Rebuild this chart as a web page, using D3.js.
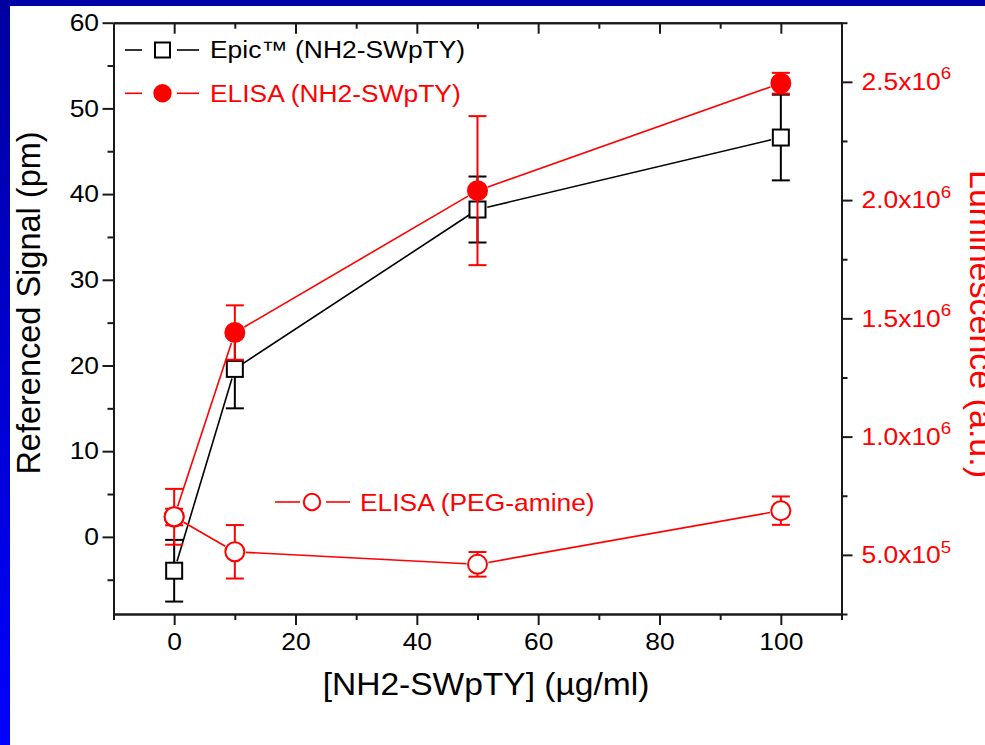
<!DOCTYPE html>
<html>
<head>
<meta charset="utf-8">
<script src="https://cdn.jsdelivr.net/npm/d3@7"></script>
<style>
  html, body { margin: 0; padding: 0; background: #fff; }
  svg { display: block; }
  text { font-family: "Liberation Sans", Arial, sans-serif; }
</style>
</head>
<body>
<svg id="chart" width="985" height="745"></svg>
<script>
// ---------------- data ----------------
const xValues = [0, 10, 50, 100];

const epicSignal = [-3.95, 19.6, 38.2, 46.6];
const epicError  = [3.6, 4.6, 3.85, 5.0];

const elisaNH2      = [660000, 1440000, 2040000, 2494000];
const elisaNH2Error = [35000, 115000, 315000, 44000];

const elisaPEG      = [661000, 513000, 460000, 687000];
const elisaPEGError = [118000, 113000, 52000, 60000];

const xMajorTicks = [0, 20, 40, 60, 80, 100];
const xMinorTicks = [-10, 10, 30, 50, 70, 90, 110];
const yLeftMajorTicks = [0, 10, 20, 30, 40, 50, 60];
const yLeftMinorTicks = [-5, 5, 15, 25, 35, 45, 55];
const yRightMajorTicks = [500000, 1000000, 1500000, 2000000, 2500000];
const yRightMinorTicks = [250000, 750000, 1250000, 1750000, 2250000, 2750000];

const legendLabels = ["Epic\u2122 (NH2-SWpTY)", "ELISA (NH2-SWpTY)", "ELISA (PEG-amine)"];
const xTitle = "[NH2-SWpTY] (\u00b5g/ml)";
const yLeftTitle = "Referenced Signal (pm)";
const yRightTitle = "Luminescence (a.u.)";

// ---------------- layout ----------------
const W = 985, H = 745;
const plot = { left: 113.5, right: 841.5, top: 22.7, bottom: 614 };
const RED = "#ff0000", BLACK = "#000000", AXIS = "#1a1a1a";
const STRETCH = 1.1;

const svg = d3.select("#chart");

// background & blue frame
const defs = svg.append("defs");
const grad = defs.append("linearGradient").attr("id", "leftBand")
  .attr("x1", 0).attr("y1", 0).attr("x2", 0).attr("y2", 1);
grad.append("stop").attr("offset", "0%").attr("stop-color", "#0000a0");
grad.append("stop").attr("offset", "100%").attr("stop-color", "#0000ff");
svg.append("rect").attr("width", W).attr("height", H).attr("fill", "#fff");
svg.append("rect").attr("x", 0).attr("y", 0).attr("width", W).attr("height", 6).attr("fill", "#0000a8");
svg.append("rect").attr("x", 0).attr("y", 0).attr("width", 10).attr("height", H).attr("fill", "url(#leftBand)");

// ---------------- scales ----------------
const x = d3.scaleLinear().domain([-10, 110]).range([plot.left, plot.right]);
const yL = d3.scaleLinear().domain([-9, 60]).range([plot.bottom, plot.top]);
const yR = d3.scaleLinear().domain([250000, 2750000]).range([plot.bottom, plot.top]);

function stretchTexts(sel) {
  sel.each(function () {
    const t = d3.select(this);
    const tx = +t.attr("x") || 0;
    t.attr("x", 0).attr("transform", `translate(${tx},0) scale(${STRETCH},1)`);
  });
}
function styleAxis(g) {
  g.select(".domain").attr("stroke", AXIS).attr("stroke-width", 2);
  g.selectAll(".tick line").attr("stroke", AXIS).attr("stroke-width", 2);
  g.selectAll(".tick text").attr("font-size", 24).attr("fill", "#000")
    .attr("font-family", '"Liberation Sans", Arial, sans-serif');
}

// ---------------- axes ----------------
// bottom
const gBottomMinor = svg.append("g").attr("transform", `translate(0,${plot.bottom})`)
  .call(d3.axisBottom(x).tickValues(xMinorTicks).tickSize(6).tickSizeOuter(0).tickFormat(""));
styleAxis(gBottomMinor);
const gBottom = svg.append("g").attr("transform", `translate(0,${plot.bottom})`)
  .call(d3.axisBottom(x).tickValues(xMajorTicks).tickSize(11).tickSizeOuter(0).tickPadding(8).tickFormat(d3.format("d")));
styleAxis(gBottom);
stretchTexts(gBottom.selectAll(".tick text"));

// top (inward ticks)
const gTopMinor = svg.append("g").attr("transform", `translate(0,${plot.top})`)
  .call(d3.axisTop(x).tickValues(xMinorTicks).tickSize(-6).tickSizeOuter(0).tickFormat(""));
styleAxis(gTopMinor);
const gTop = svg.append("g").attr("transform", `translate(0,${plot.top})`)
  .call(d3.axisTop(x).tickValues(xMajorTicks).tickSize(-11).tickSizeOuter(0).tickFormat(""));
styleAxis(gTop);

// left
const gLeftMinor = svg.append("g").attr("transform", `translate(${plot.left},0)`)
  .call(d3.axisLeft(yL).tickValues(yLeftMinorTicks).tickSize(6).tickSizeOuter(0).tickFormat(""));
styleAxis(gLeftMinor);
const gLeft = svg.append("g").attr("transform", `translate(${plot.left},0)`)
  .call(d3.axisLeft(yL).tickValues(yLeftMajorTicks).tickSize(11).tickSizeOuter(0).tickPadding(3.5).tickFormat(d3.format("d")));
styleAxis(gLeft);
stretchTexts(gLeft.selectAll(".tick text"));

// right
const gRightMinor = svg.append("g").attr("transform", `translate(${plot.right},0)`)
  .call(d3.axisRight(yR).tickValues(yRightMinorTicks).tickSize(6).tickSizeOuter(0).tickFormat(""));
styleAxis(gRightMinor);
const gRight = svg.append("g").attr("transform", `translate(${plot.right},0)`)
  .call(d3.axisRight(yR).tickValues(yRightMajorTicks).tickSize(11).tickSizeOuter(0).tickPadding(9));
styleAxis(gRight);
gRight.selectAll(".tick text").each(function (d) {
  const exp = Math.floor(Math.log10(d));
  const mant = (d / Math.pow(10, exp)).toFixed(1);
  const t = d3.select(this).text(null).attr("fill", RED);
  t.append("tspan").text(mant + "x10");
  t.append("tspan").attr("font-size", 17).attr("dy", "-0.62em").text(exp);
});
stretchTexts(gRight.selectAll(".tick text"));

// ---------------- axis titles ----------------
svg.append("text")
  .attr("transform", `translate(486,695) scale(${STRETCH},1)`)
  .attr("text-anchor", "middle").attr("font-size", 30.5).attr("fill", "#000")
  .text(xTitle);
svg.append("text")
  .attr("transform", "translate(40,303) rotate(-90)")
  .attr("text-anchor", "middle").attr("font-size", 32.5).attr("fill", "#000")
  .text(yLeftTitle);
svg.append("text")
  .attr("transform", "translate(970,324) rotate(90)")
  .attr("text-anchor", "middle").attr("font-size", 34).attr("fill", RED)
  .text(yRightTitle);

// ---------------- series ----------------
const SQ = 16, R = 9.5;

function series(yScale, vals, errs, color, symbol) {
  const pts = xValues.map((xv, i) => ({ px: x(xv), py: yScale(vals[i]),
    lo: yScale(vals[i] - errs[i]), hi: yScale(vals[i] + errs[i]) }));
  const g = svg.append("g");
  // connecting segments with gaps at the symbols
  const gap = (symbol === "square" ? SQ / 2 + 2 : R + 1.5);
  for (let i = 0; i < pts.length - 1; i++) {
    const a = pts[i], b = pts[i + 1];
    const dx = b.px - a.px, dy = b.py - a.py, L = Math.hypot(dx, dy);
    if (L <= 2 * gap) continue;
    const ux = dx / L, uy = dy / L;
    g.append("line")
      .attr("x1", a.px + ux * gap).attr("y1", a.py + uy * gap)
      .attr("x2", b.px - ux * gap).attr("y2", b.py - uy * gap)
      .attr("stroke", color).attr("stroke-width", 1.6);
  }
  // error bars
  const cap = 9;
  pts.forEach(p => {
    g.append("line").attr("x1", p.px).attr("x2", p.px).attr("y1", p.lo).attr("y2", p.hi)
      .attr("stroke", color).attr("stroke-width", 2);
    [p.lo, p.hi].forEach(yy => g.append("line")
      .attr("x1", p.px - cap).attr("x2", p.px + cap).attr("y1", yy).attr("y2", yy)
      .attr("stroke", color).attr("stroke-width", 2));
  });
  // symbols
  pts.forEach(p => {
    if (symbol === "square") {
      g.append("rect").attr("x", p.px - SQ / 2).attr("y", p.py - SQ / 2)
        .attr("width", SQ).attr("height", SQ)
        .attr("fill", "#fff").attr("stroke", color).attr("stroke-width", 2);
    } else {
      g.append("circle").attr("cx", p.px).attr("cy", p.py).attr("r", R)
        .attr("fill", symbol === "filled" ? color : "#fff")
        .attr("stroke", color).attr("stroke-width", 2);
    }
  });
}

series(yL, epicSignal, epicError, BLACK, "square");
series(yR, elisaNH2, elisaNH2Error, RED, "filled");
series(yR, elisaPEG, elisaPEGError, RED, "open");

// ---------------- legends ----------------
function legendItem(cx, cy, textX, baseline, color, symbol, label, lineLeft, lineRight) {
  const g = svg.append("g");
  g.append("line").attr("x1", lineLeft[0]).attr("x2", lineLeft[1]).attr("y1", cy).attr("y2", cy)
    .attr("stroke", color).attr("stroke-width", 1.6);
  g.append("line").attr("x1", lineRight[0]).attr("x2", lineRight[1]).attr("y1", cy).attr("y2", cy)
    .attr("stroke", color).attr("stroke-width", 1.6);
  if (symbol === "square") {
    g.append("rect").attr("x", cx - 7.5).attr("y", cy - 7.5).attr("width", 15).attr("height", 15)
      .attr("fill", "#fff").attr("stroke", color).attr("stroke-width", 2);
  } else {
    g.append("circle").attr("cx", cx).attr("cy", cy).attr("r", 8.2)
      .attr("fill", symbol === "filled" ? color : "#fff").attr("stroke", color).attr("stroke-width", 2);
  }
  g.append("text").attr("transform", `translate(${textX},${baseline}) scale(${STRETCH},1)`)
    .attr("font-size", 24).attr("fill", color).text(label);
}
legendItem(162.5, 50, 210, 57.5, BLACK, "square", legendLabels[0], [125, 142], [177, 199]);
legendItem(162.5, 93.3, 210, 101.7, RED, "filled", legendLabels[1], [125, 142], [177, 199]);
legendItem(312, 502, 360, 510.7, RED, "open", legendLabels[2], [275, 300], [326, 350]);
</script>
</body>
</html>
